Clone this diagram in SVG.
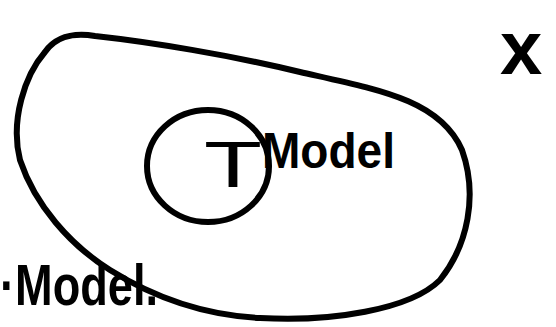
<svg xmlns="http://www.w3.org/2000/svg" width="556" height="327" viewBox="0 0 556 327">
<style>
.ink{fill:none;stroke:#000;stroke-width:6;stroke-linecap:round;stroke-linejoin:round}
.hand{font-family:"Liberation Sans","DejaVu Sans",sans-serif;font-weight:bold;fill:#000}
.thin{font-weight:normal}
</style>
<rect width="556" height="327" fill="#fff"/>
<g id="outer-set">
<path class="ink" d="M45,52 C55,38 70,32 95,36 C150,42 230,55 300,72 C380,90 440,100 462,150 C478,195 468,245 440,280 C410,310 330,322 260,318 C200,315 150,295 110,270 C70,245 35,205 20,160 C10,120 25,75 45,52 Z"/>
</g>
<g id="inner-circle">
<ellipse class="ink" cx="208" cy="166" rx="61" ry="56"/>
</g>
<g id="label-tmodel">
<text class="hand thin" x="204" y="187" font-size="64" textLength="58" lengthAdjust="spacingAndGlyphs">T</text>
<text class="hand" x="262" y="168" font-size="50" textLength="133" lengthAdjust="spacingAndGlyphs">Model</text>
</g>
<g id="label-model">
<text class="hand" x="0" y="305" font-size="58" textLength="158" lengthAdjust="spacingAndGlyphs">·Model.</text>
</g>
<g id="label-x">
<text class="hand" x="500" y="74" font-size="76">x</text>
</g>
<g id="connectors"/>
</svg>
